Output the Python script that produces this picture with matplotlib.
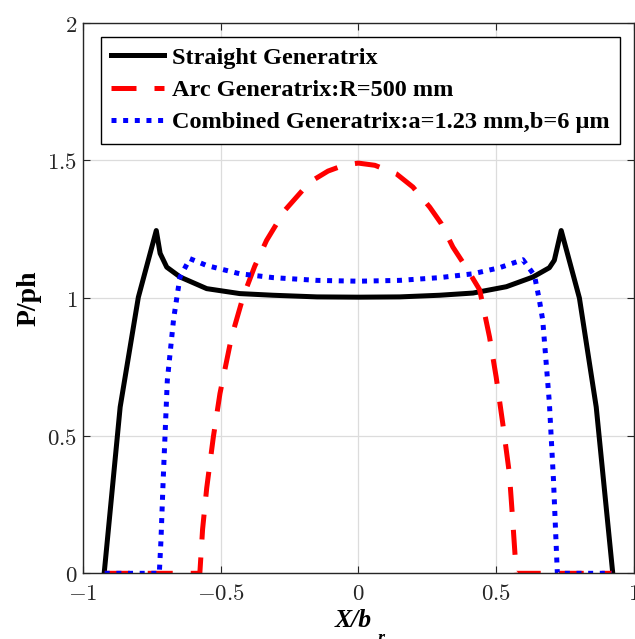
import matplotlib.pyplot as plt
from matplotlib.font_manager import FontProperties

plt.rcParams["mathtext.fontset"] = "cm"

# Straight generatrix (solid black)
x_straight = [-0.922, -0.864, -0.798, -0.733, -0.719, -0.695, -0.646, -0.55, -0.43,
              -0.31, -0.15, 0.0, 0.15, 0.295, 0.416, 0.537, 0.633, 0.693, 0.711,
              0.736, 0.802, 0.863, 0.923]
p_straight = [0.0, 0.604, 1.003, 1.245, 1.162, 1.112, 1.076, 1.034, 1.016,
              1.01, 1.004, 1.003, 1.004, 1.01, 1.018, 1.041, 1.076, 1.11, 1.137,
              1.245, 1.0, 0.604, 0.0]

# Arc generatrix R=500 mm (red dashed)
x_arc = [-0.92, -0.575, -0.565, -0.55, -0.526, -0.502, -0.46, -0.418, -0.376, -0.333,
         -0.267, -0.176, -0.11, -0.05, 0.0, 0.06, 0.138, 0.198, 0.259, 0.301, 0.343,
         0.395, 0.44, 0.476, 0.5, 0.524, 0.548, 0.56, 0.573, 0.92]
p_arc = [0.0, 0.0, 0.16, 0.31, 0.495, 0.653, 0.858, 1.004, 1.115, 1.209,
         1.318, 1.421, 1.461, 1.483, 1.49, 1.482, 1.451, 1.403, 1.33, 1.27, 1.185,
         1.105, 1.03, 0.858, 0.713, 0.544, 0.362, 0.194, 0.0, 0.0]

# Combined generatrix a=1.23 mm, b=6 um (blue dotted)
x_comb = [-0.92, -0.722, -0.716, -0.708, -0.693, -0.67, -0.647, -0.611, -0.55,
          -0.43, -0.309, -0.15, 0.0, 0.15, 0.295, 0.416, 0.512, 0.597, 0.639,
          0.657, 0.669, 0.693, 0.708, 0.718, 0.722, 0.92]
p_comb = [0.0, 0.0, 0.12, 0.338, 0.70, 0.925, 1.076, 1.143, 1.118,
          1.088, 1.074, 1.064, 1.061, 1.064, 1.074, 1.088, 1.11, 1.139, 1.082,
          0.991, 0.919, 0.62, 0.338, 0.096, 0.0, 0.0]

labels = ["Straight Generatrix",
          "Arc Generatrix:R=500 mm",
          "Combined Generatrix:a=1.23 mm,b=6 \u03bcm"]

x_ticks = [-1, -0.5, 0, 0.5, 1]
x_ticklabels = [r"$-1$", r"$-0.5$", r"$0$", r"$0.5$", r"$1$"]
y_ticks = [0, 0.5, 1, 1.5, 2]
y_ticklabels = [r"$0$", r"$0.5$", r"$1$", r"$1.5$", r"$2$"]

fig = plt.figure(figsize=(6.35, 6.39), dpi=100)
ax = fig.add_axes([0.1302, 0.1028, 0.8682, 0.8617])

lw = 3.6
ax.plot(x_straight, p_straight, color="black", lw=lw, label=labels[0])
ax.plot(x_arc, p_arc, color="red", lw=lw, dashes=(5, 3.6), label=labels[1])
ax.plot(x_comb, p_comb, color="blue", lw=lw, dashes=(1, 1.33), label=labels[2])

ax.set_xlim(-1, 1)
ax.set_ylim(0, 2)
ax.set_xticks(x_ticks)
ax.set_xticklabels(x_ticklabels)
ax.set_yticks(y_ticks)
ax.set_yticklabels(y_ticklabels)
ax.tick_params(direction="in", top=True, right=True, length=5, width=0.8,
               color="#262626", labelsize=16.5, labelcolor="#262626")
ax.tick_params(axis="x", pad=6)
ax.tick_params(axis="y", pad=4)
ax.grid(True, color="#dcdcdc", lw=0.9)
ax.set_axisbelow(True)
for s in ax.spines.values():
    s.set_color("#262626")
    s.set_linewidth(1.0)

leg_font = FontProperties(family="Liberation Serif", weight="bold", size=17.5)
leg = ax.legend(loc="upper left", bbox_to_anchor=(0.0327, 0.9746), borderaxespad=0,
                prop=leg_font, fancybox=False, edgecolor="black", framealpha=1,
                handlelength=2.2, handletextpad=0.32, labelspacing=0.42,
                borderpad=0.42)
leg.get_frame().set_linewidth(1.0)

ax.set_ylabel("P/ph", family="Liberation Serif", weight="bold", fontsize=20, labelpad=4)

fig.text(335 / 635, (639 - 627) / 639, "X/b", family="Liberation Serif",
         weight="bold", style="italic", fontsize=18.5, ha="left", va="baseline")
fig.text(378 / 635, (639 - 643) / 639, "r", family="Liberation Serif",
         weight="bold", style="italic", fontsize=13, ha="left", va="baseline")

fig.savefig("out.png", dpi=100)
